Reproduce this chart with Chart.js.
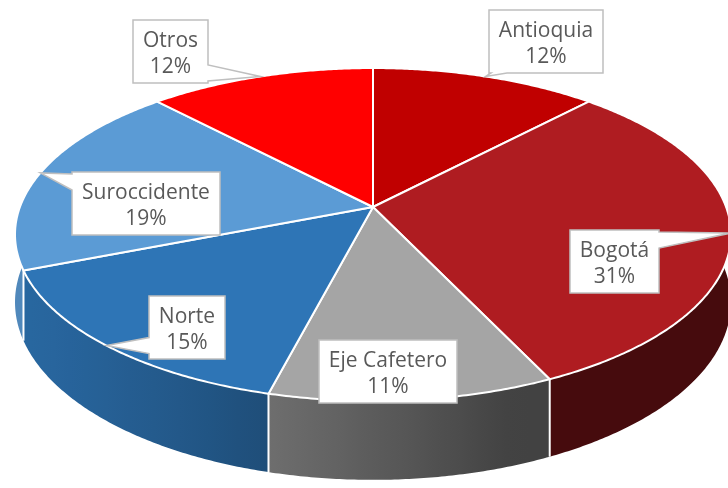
<!DOCTYPE html>
<html>
<head>
<meta charset="utf-8">
<script src="https://cdn.jsdelivr.net/npm/chart.js@4.4.1/dist/chart.umd.min.js"></script>
<style>
  html, body { margin: 0; padding: 0; background: #fff; }
  #wrap { width: 728px; height: 488px; position: relative; }
</style>
</head>
<body>
<div id="wrap"><canvas id="pie"></canvas></div>
<script>
// regions and their share of the total (%)
const regions = ['Antioquia', 'Bogotá', 'Eje Cafetero', 'Norte', 'Suroccidente', 'Otros'];
const shares = [12, 31, 11, 15, 19, 12];

// top-face colours; the walls are shaded from these
const sliceColors = ['#C00000', '#AF1C21', '#A5A5A5', '#2E75B6', '#5B9BD5', '#FF0000'];

// callout box centre, offset from the slice's rim point
const calloutOffsets = [[60, -35], [-116, 28], [-25, -28], [80, -18], [106, 31], [-90, -25]];

// 3D look, relative to the radius the library computes
const TILT = { sx: 1.714, sy: 0.786, persp: 0.165, depth: 0.32 };
const LIGHT = 251 * Math.PI / 180;

function hexToRgb(h) {
    const n = parseInt(h.slice(1), 16);
    return [(n >> 16) & 255, (n >> 8) & 255, n & 255];
}

function shade(hex, f) {
    const [r, g, b] = hexToRgb(hex);
    return `rgb(${Math.round(r * f)},${Math.round(g * f)},${Math.round(b * f)})`;
}

// wall brightness for a chart.js angle
function light(angle) {
    return 0.4 + 0.48 * Math.max(0, Math.cos(angle + Math.PI / 2 - LIGHT));
}

// project an angle (chart.js convention) on the rim, depth 0 = top face, 1 = bottom
function project(arc, angle, depth) {
    const R = arc.outerRadius;
    const u = Math.cos(angle), v = -Math.sin(angle);
    const w = 1 + TILT.persp * v;
    return {
        x: arc.x + R * TILT.sx * u / w,
        y: arc.y - R * TILT.sy * v / w + depth * R * TILT.depth / w
    };
}

function calloutPath(ctx, bx, by, bw, bh, ax, ay) {
    ctx.beginPath();
    const inside = ax >= bx && ax <= bx + bw && ay >= by && ay <= by + bh;
    if (inside) {
        ctx.rect(bx, by, bw, bh);
        return;
    }
    const dx = ax - (bx + bw / 2), dy = ay - (by + bh / 2);
    let side;
    if (Math.abs(dx) / (bw / 2) > Math.abs(dy) / (bh / 2)) side = dx < 0 ? 'left' : 'right';
    else side = dy < 0 ? 'top' : 'bottom';
    const half = 8, m = 10;
    const clamp = (val, lo, hi) => Math.max(lo, Math.min(hi, val));

    ctx.moveTo(bx, by);
    if (side === 'top') {
        const c = clamp(ax, bx + m, bx + bw - m);
        ctx.lineTo(c - half, by); ctx.lineTo(ax, ay); ctx.lineTo(c + half, by);
    }
    ctx.lineTo(bx + bw, by);
    if (side === 'right') {
        const c = clamp(ay, by + m, by + bh - m);
        ctx.lineTo(bx + bw, c - half); ctx.lineTo(ax, ay); ctx.lineTo(bx + bw, c + half);
    }
    ctx.lineTo(bx + bw, by + bh);
    if (side === 'bottom') {
        const c = clamp(ax, bx + m, bx + bw - m);
        ctx.lineTo(c + half, by + bh); ctx.lineTo(ax, ay); ctx.lineTo(c - half, by + bh);
    }
    ctx.lineTo(bx, by + bh);
    if (side === 'left') {
        const c = clamp(ay, by + m, by + bh - m);
        ctx.lineTo(bx, c + half); ctx.lineTo(ax, ay); ctx.lineTo(bx, c - half);
    }
    ctx.closePath();
}

const pie3d = {
    id: 'pie3d',
    beforeDatasetsDraw(chart) {
        const ctx = chart.ctx;
        const arcs = chart.getDatasetMeta(0).data;
        const step = Math.PI / 360;
        // part of the rim that faces the viewer (cos(theta) < -persp)
        const turn = Math.acos(-TILT.persp);
        const frontLo = turn - Math.PI / 2, frontHi = 2 * Math.PI - turn - Math.PI / 2;

        ctx.save();

        // walls, back to front
        const order = arcs.map(arc => {
            const p = arc.getProps(['startAngle', 'endAngle'], true);
            return { arc, s: p.startAngle, e: p.endAngle, v: -Math.sin((p.startAngle + p.endAngle) / 2) };
        }).sort((a, b) => b.v - a.v);

        order.forEach(({ arc, s, e }) => {
            const n = Math.max(2, Math.ceil((e - s) / step));
            ctx.beginPath();
            for (let k = 0; k <= n; k++) {
                const p = project(arc, s + (e - s) * k / n, 0);
                k ? ctx.lineTo(p.x, p.y) : ctx.moveTo(p.x, p.y);
            }
            for (let k = n; k >= 0; k--) {
                const p = project(arc, s + (e - s) * k / n, 1);
                ctx.lineTo(p.x, p.y);
            }
            ctx.closePath();

            const base = arc.options.backgroundColor;
            const lo = Math.max(s, frontLo), hi = Math.min(e, frontHi);
            if (hi > lo) {
                const x0 = project(arc, lo, 0).x, x1 = project(arc, hi, 0).x;
                const g = ctx.createLinearGradient(x0, 0, x1, 0);
                const m = 12;
                for (let k = 0; k <= m; k++) {
                    const a = lo + (hi - lo) * k / m;
                    const t = (project(arc, a, 0).x - x0) / (x1 - x0);
                    g.addColorStop(Math.min(1, Math.max(0, t)), shade(base, light(a)));
                }
                ctx.fillStyle = g;
            } else {
                ctx.fillStyle = shade(base, light((s + e) / 2));
            }
            ctx.fill();
        });

        // white seams between walls that face the viewer
        ctx.strokeStyle = '#fff';
        ctx.lineWidth = 2;
        arcs.forEach(arc => {
            const a = arc.getProps(['startAngle'], true).startAngle;
            if (a > frontLo && a < frontHi) {
                const p0 = project(arc, a, 0), p1 = project(arc, a, 1);
                ctx.beginPath();
                ctx.moveTo(p0.x, p0.y);
                ctx.lineTo(p1.x, p1.y);
                ctx.stroke();
            }
        });

        // top faces
        ctx.lineJoin = 'round';
        arcs.forEach(arc => {
            const { startAngle, endAngle } = arc.getProps(['startAngle', 'endAngle'], true);
            ctx.beginPath();
            ctx.moveTo(arc.x, arc.y);
            const n = Math.max(2, Math.ceil((endAngle - startAngle) / step));
            for (let k = 0; k <= n; k++) {
                const p = project(arc, startAngle + (endAngle - startAngle) * k / n, 0);
                ctx.lineTo(p.x, p.y);
            }
            ctx.closePath();
            ctx.fillStyle = arc.options.backgroundColor;
            ctx.fill();
            ctx.strokeStyle = arc.options.borderColor;
            ctx.lineWidth = arc.options.borderWidth;
            ctx.stroke();
        });

        // callout labels
        const total = shares.reduce((a, b) => a + b, 0);
        ctx.font = '21px "Open Sans"';
        ctx.textAlign = 'center';
        ctx.textBaseline = 'alphabetic';
        arcs.forEach((arc, i) => {
            const { startAngle, endAngle } = arc.getProps(['startAngle', 'endAngle'], true);
            const anchor = project(arc, (startAngle + endAngle) / 2, 0);
            const lines = [regions[i], Math.round(shares[i] / total * 100) + '%'];
            const bw = Math.round(Math.max(...lines.map(t => ctx.measureText(t).width)) + 20);
            const bh = 63;
            const bx = Math.round(anchor.x + calloutOffsets[i][0] - bw / 2);
            const by = Math.round(anchor.y + calloutOffsets[i][1] - bh / 2);
            calloutPath(ctx, bx, by, bw, bh, anchor.x, anchor.y);
            ctx.fillStyle = '#fff';
            ctx.fill();
            ctx.strokeStyle = '#BFBFBF';
            ctx.lineWidth = 1.5;
            ctx.lineJoin = 'miter';
            ctx.stroke();
            ctx.fillStyle = '#595959';
            ctx.fillText(lines[0], bx + bw / 2, by + 27);
            ctx.fillText(lines[1], bx + bw / 2, by + 53);
        });
        ctx.restore();
        return false;
    }
};

new Chart(document.getElementById('pie'), {
    type: 'pie',
    data: {
        labels: regions,
        datasets: [{
            data: shares,
            backgroundColor: sliceColors,
            borderColor: '#ffffff',
            borderWidth: 2,
            hoverOffset: 0
        }]
    },
    options: {
        responsive: true,
        maintainAspectRatio: false,
        animation: false,
        events: [],
        layout: { padding: { left: 18, bottom: 74 } },
        plugins: {
            legend: { display: false },
            tooltip: { enabled: false }
        }
    },
    plugins: [pie3d]
});
</script>
</body>
</html>
